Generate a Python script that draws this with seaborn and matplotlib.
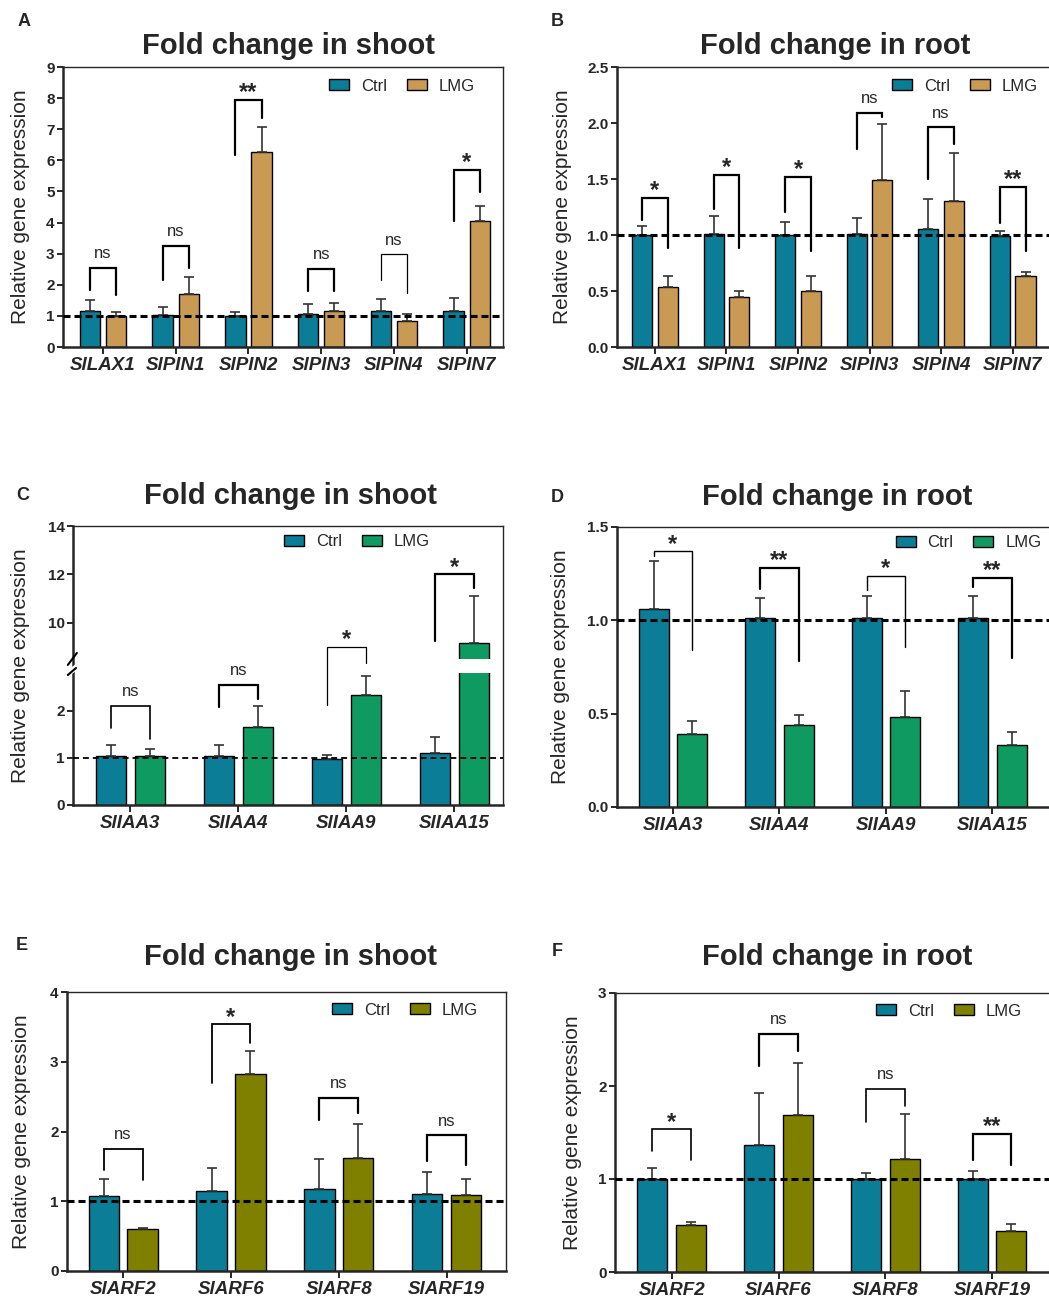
import matplotlib.pyplot as plt
import numpy as np
import pandas as pd
import seaborn as sns
from matplotlib.patches import Rectangle, Patch

sns.set_theme(style='ticks')
plt.rcParams['font.family'] = ['Liberation Sans', 'DejaVu Sans']

W, H = 1049, 1298

ctrl_color = '#0b7d97'
tan_color = '#c99a54'
green_color = '#0f9a62'
olive_color = '#808000'

# ---- panel A : shoot, transporters
genes_a = ['SlLAX1', 'SlPIN1', 'SlPIN2', 'SlPIN3', 'SlPIN4', 'SlPIN7']
ctrl_a = [1.15, 1.02, 1.00, 1.07, 1.15, 1.15]
ctrl_err_a = [0.35, 0.26, 0.12, 0.30, 0.40, 0.43]
lmg_a = [1.00, 1.69, 6.26, 1.15, 0.84, 4.04]
lmg_err_a = [0.12, 0.55, 0.80, 0.26, 0.23, 0.48]
sig_a = ['ns', 'ns', '**', 'ns', 'ns', '*']
br_top_a = [2.54, 3.25, 7.95, 2.51, 2.98, 5.70]
br_left_a = [1.82, 2.14, 6.16, 1.80, 2.14, 4.06]
br_right_a = [1.67, 2.54, 7.37, 1.80, 1.75, 4.98]

# ---- panel B : root, transporters
genes_b = ['SlLAX1', 'SlPIN1', 'SlPIN2', 'SlPIN3', 'SlPIN4', 'SlPIN7']
ctrl_b = [1.00, 1.01, 1.00, 1.01, 1.05, 0.99]
ctrl_err_b = [0.08, 0.16, 0.12, 0.14, 0.27, 0.05]
lmg_b = [0.54, 0.45, 0.50, 1.49, 1.30, 0.63]
lmg_err_b = [0.09, 0.05, 0.13, 0.50, 0.43, 0.04]
sig_b = ['*', '*', '*', 'ns', 'ns', '**']
br_top_b = [1.33, 1.54, 1.52, 2.09, 1.96, 1.43]
br_left_b = [1.13, 1.235, 1.205, 1.765, 1.50, 1.11]
br_right_b = [0.88, 0.88, 0.86, 2.05, 1.81, 0.86]

# ---- panel C : shoot, Aux/IAA
genes_c = ['SlIAA3', 'SlIAA4', 'SlIAA9', 'SlIAA15']
ctrl_c = [1.03, 1.03, 0.98, 1.10]
ctrl_err_c = [0.24, 0.24, 0.09, 0.35]
lmg_c = [1.03, 1.66, 2.33, 9.17]
lmg_err_c = [0.15, 0.44, 0.40, 1.93]
sig_c = ['ns', 'ns', '*', '*']
br_top_c = [2.10, 2.54, 9.00, 12.00]
br_left_c = [1.63, 2.08, 2.12, 9.25]
br_right_c = [1.41, 2.24, 6.94, 11.42]

# ---- panel D : root, Aux/IAA
genes_d = ['SlIAA3', 'SlIAA4', 'SlIAA9', 'SlIAA15']
ctrl_d = [1.06, 1.01, 1.01, 1.01]
ctrl_err_d = [0.26, 0.11, 0.12, 0.12]
lmg_d = [0.39, 0.44, 0.48, 0.33]
lmg_err_d = [0.07, 0.055, 0.14, 0.07]
sig_d = ['*', '**', '*', '**']
br_top_d = [1.37, 1.283, 1.239, 1.226]
br_left_d = [1.342, 1.167, 1.16, 1.178]
br_right_d = [0.841, 0.784, 0.859, 0.80]

# ---- panel E : shoot, ARF
genes_e = ['SlARF2', 'SlARF6', 'SlARF8', 'SlARF19']
ctrl_e = [1.07, 1.14, 1.17, 1.10]
ctrl_err_e = [0.25, 0.34, 0.43, 0.32]
lmg_e = [0.60, 2.82, 1.62, 1.09]
lmg_err_e = [0.02, 0.33, 0.49, 0.23]
sig_e = ['ns', '*', 'ns', 'ns']
br_top_e = [1.754, 3.536, 2.48, 1.945]
br_left_e = [1.453, 2.695, 2.16, 1.572]
br_right_e = [1.31, 3.27, 2.265, 1.515]

# ---- panel F : root, ARF
genes_f = ['SlARF2', 'SlARF6', 'SlARF8', 'SlARF19']
ctrl_f = [1.00, 1.37, 1.00, 1.00]
ctrl_err_f = [0.12, 0.55, 0.065, 0.086]
lmg_f = [0.51, 1.685, 1.21, 0.44]
lmg_err_f = [0.03, 0.565, 0.49, 0.08]
sig_f = ['*', 'ns', 'ns', '**']
br_top_f = [1.534, 2.563, 1.97, 1.487]
br_left_f = [1.30, 2.21, 1.61, 1.20]
br_right_f = [1.20, 2.38, 1.79, 1.154]


def rect(l, t, r, b):
    return [l / W, 1 - b / H, (r - l) / W, (b - t) / H]


# broken axis for panel C: piecewise linear scale
LO, HI, GAP, K = 2.8, 8.5, 0.3, 0.512


def brk_fwd(y):
    y = np.asarray(y, dtype=float)
    return np.where(y <= LO, y,
                    np.where(y < HI, LO + (y - LO) * GAP / (HI - LO),
                             LO + GAP + (y - HI) * K))


def brk_inv(f):
    f = np.asarray(f, dtype=float)
    return np.where(f <= LO, f,
                    np.where(f < LO + GAP, LO + (f - LO) * (HI - LO) / GAP,
                             HI + (f - LO - GAP) / K))


fig = plt.figure(figsize=(W / 100, H / 100), dpi=100)


def panel(box, letter, letter_xy, title, title_xy, ylab_x, genes, ctrl, ctrl_err,
          lmg, lmg_err, lmg_color, sig, br_top, br_left, br_right, br_lw,
          ylim, yticks, yticklabels, xlim, leg_xy, dash_lw=2.2, broken=False):
    ax = fig.add_axes(rect(*box))
    df = pd.DataFrame({'gene': genes * 2,
                       'group': ['Ctrl'] * len(genes) + ['LMG'] * len(genes),
                       'value': ctrl + lmg})
    sns.barplot(data=df, x='gene', y='value', hue='group',
                palette=[ctrl_color, lmg_color], saturation=1, width=0.72, gap=0.22,
                errorbar=None, edgecolor='black', linewidth=1.0,
                legend=False, ax=ax)
    if broken:
        ax.set_yscale('function', functions=(brk_fwd, brk_inv))

    cbars = ax.containers[0]
    lbars = ax.containers[1]
    xc = [b.get_x() + b.get_width() / 2 for b in cbars]
    xl = [b.get_x() + b.get_width() / 2 for b in lbars]

    ax.errorbar(xc, ctrl, yerr=[np.zeros(len(ctrl)), ctrl_err], fmt='none',
                ecolor='#333333', elinewidth=1.2, capsize=3.5, capthick=1.2, zorder=3)
    ax.errorbar(xl, lmg, yerr=[np.zeros(len(lmg)), lmg_err], fmt='none',
                ecolor='#333333', elinewidth=1.2, capsize=3.5, capthick=1.2, zorder=3)

    ax.axhline(1, color='black', lw=dash_lw,
               ls=(0, (2.3, 1.3)) if dash_lw > 1.8 else (0, (3.3, 2.2)), zorder=4)

    for i in range(len(genes)):
        ax.plot([xc[i], xc[i], xl[i], xl[i]],
                [br_left[i], br_top[i], br_top[i], br_right[i]],
                color='black', lw=br_lw[i], solid_joinstyle='miter', zorder=5)
        mid = (xc[i] + xl[i]) / 2
        if sig[i] == 'ns':
            ax.annotate('ns', (mid, br_top[i]), xytext=(0, 7), textcoords='offset points',
                        ha='center', va='baseline', fontsize=12, zorder=6)
        else:
            ax.annotate(sig[i], (mid, br_top[i]), xytext=(0, 0.5), textcoords='offset points',
                        ha='center', va='baseline', fontsize=17, fontweight='bold', zorder=6)

    ax.set_ylim(*ylim)
    ax.set_yticks(yticks)
    ax.set_yticklabels(yticklabels)
    ax.set_xlim(*xlim)
    ax.set_xlabel('')
    ax.set_ylabel('')

    for side in ['left', 'bottom']:
        ax.spines[side].set_linewidth(1.8)
    for side in ['top', 'right']:
        ax.spines[side].set_linewidth(1.0)
    ax.tick_params(axis='y', direction='out', length=4, width=1.4, labelsize=11, pad=2)
    ax.tick_params(axis='x', direction='out', length=5, width=1.4, labelsize=13.5, pad=2)
    for lab in ax.get_yticklabels():
        lab.set_fontweight('bold')
    for lab in ax.get_xticklabels():
        lab.set_fontweight('bold')
        lab.set_fontstyle('italic')

    handles = [Patch(facecolor=ctrl_color, edgecolor='black', lw=1.0, label='Ctrl'),
               Patch(facecolor=lmg_color, edgecolor='black', lw=1.0, label='LMG')]
    ax.legend(handles=handles, loc='center', bbox_to_anchor=leg_xy, ncol=2,
              frameon=False, fontsize=12, handlelength=1.2, handleheight=0.6,
              handletextpad=0.7, columnspacing=1.2)

    if broken:
        b = lbars[-1]
        ax.add_patch(Rectangle((b.get_x() - 0.02, LO + 0.001), b.get_width() + 0.04,
                               HI - LO - 0.002, facecolor='white', edgecolor='none',
                               zorder=2.5))
        # break marks on the left spine
        ax.plot([-0.01, 0.01], [0.473, 0.497], transform=ax.transAxes, color='white',
                lw=4, clip_on=False, zorder=7, solid_capstyle='butt')
        ax.plot([-0.012, 0.009], [0.502, 0.545], transform=ax.transAxes, color='black',
                lw=1.5, clip_on=False, zorder=8)
        ax.plot([-0.012, 0.007], [0.466, 0.491], transform=ax.transAxes, color='black',
                lw=1.5, clip_on=False, zorder=8)

    fig.text(letter_xy[0] / W, 1 - letter_xy[1] / H, letter, fontsize=13,
             fontweight='bold', ha='center', va='center')
    fig.text(title_xy[0] / W, 1 - title_xy[1] / H, title, fontsize=21,
             fontweight='bold', ha='center', va='center')
    yc = (box[1] + box[3]) / 2
    fig.text(ylab_x / W, 1 - yc / H, 'Relative gene expression', fontsize=15,
             rotation=90, ha='center', va='center')
    return ax


panel((63, 67, 503, 347), 'A', (24, 21), 'Fold change in shoot', (288, 46), 21,
      genes_a, ctrl_a, ctrl_err_a, lmg_a, lmg_err_a, tan_color, sig_a,
      br_top_a, br_left_a, br_right_a, [1.6, 1.6, 1.6, 1.6, 0.9, 1.6],
      (0, 9), list(range(10)), [str(v) for v in range(10)], (-0.55, 5.5), (0.77, 0.932))

panel((617, 67, 1052, 347), 'B', (557, 21), 'Fold change in root', (835, 46), 563,
      genes_b, ctrl_b, ctrl_err_b, lmg_b, lmg_err_b, tan_color, sig_b,
      br_top_b, br_left_b, br_right_b, [1.6] * 6,
      (0, 2.5), [0, 0.5, 1.0, 1.5, 2.0, 2.5], ['0.0', '0.5', '1.0', '1.5', '2.0', '2.5'],
      (-0.53, 5.55), (0.80, 0.932))

panel((73, 526, 503, 805), 'C', (23, 495), 'Fold change in shoot', (290, 496), 21,
      genes_c, ctrl_c, ctrl_err_c, lmg_c, lmg_err_c, green_color, sig_c,
      br_top_c, br_left_c, br_right_c, [1.2, 1.6, 0.9, 1.6],
      (0, 14), [0, 1, 2, 10, 12, 14], ['0', '1', '2', '10', '12', '14'],
      (-0.53, 3.45), (0.66, 0.943), dash_lw=1.3, broken=True)

panel((617, 527, 1051, 807), 'D', (557, 497), 'Fold change in root', (837, 497), 561,
      genes_d, ctrl_d, ctrl_err_d, lmg_d, lmg_err_d, green_color, sig_d,
      br_top_d, br_left_d, br_right_d, [1.0, 1.6, 1.0, 1.6],
      (0, 1.5), [0, 0.5, 1.0, 1.5], ['0.0', '0.5', '1.0', '1.5'],
      (-0.525, 3.55), (0.81, 0.943))

panel((67, 992, 506, 1271), 'E', (22, 945), 'Fold change in shoot', (290, 957), 22,
      genes_e, ctrl_e, ctrl_err_e, lmg_e, lmg_err_e, olive_color, sig_e,
      br_top_e, br_left_e, br_right_e, [1.3, 1.3, 1.6, 1.6],
      (0, 4), [0, 1, 2, 3, 4], ['0', '1', '2', '3', '4'],
      (-0.52, 3.55), (0.77, 0.935))

panel((615, 993, 1051, 1272), 'F', (557, 951), 'Fold change in root', (837, 957), 572,
      genes_f, ctrl_f, ctrl_err_f, lmg_f, lmg_err_f, olive_color, sig_f,
      br_top_f, br_left_f, br_right_f, [1.2, 1.6, 1.2, 1.6],
      (0, 3), [0, 1, 2, 3], ['0', '1', '2', '3'],
      (-0.53, 3.55), (0.766, 0.935))

fig.savefig('out.png', dpi=100)
